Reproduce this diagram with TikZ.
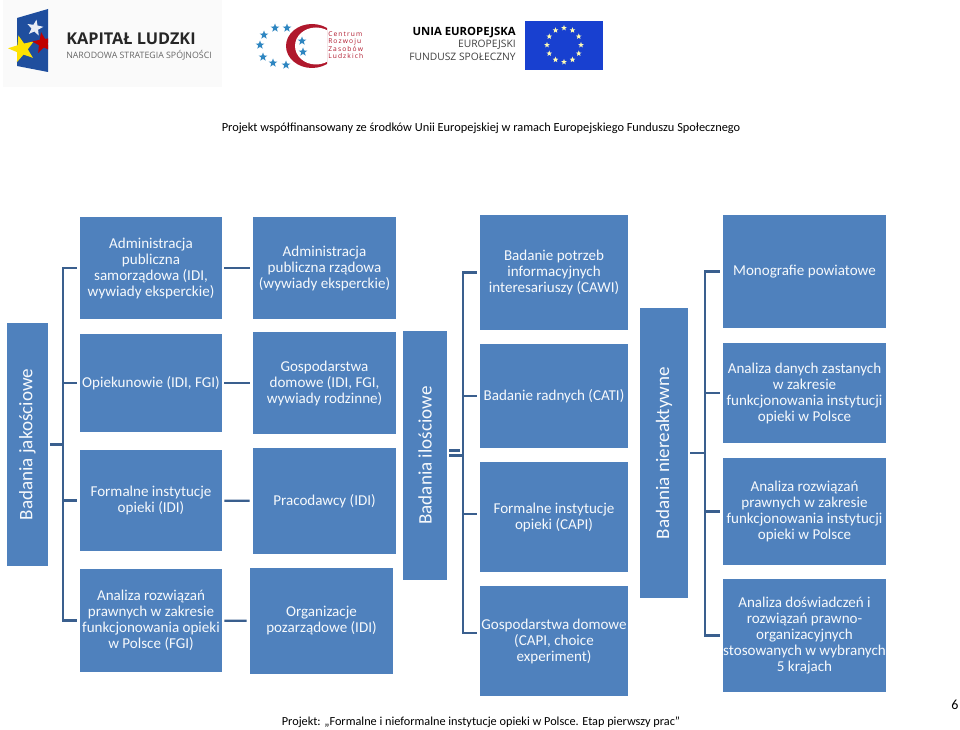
\documentclass[tikz,border=0pt]{standalone}
\usepackage{fontspec}
\setmainfont{Carlito}
\newfontfamily\logofont{Open Sans}
\usetikzlibrary{shapes.geometric}
\definecolor{niebieski}{HTML}{4F81BD}
\definecolor{lacze}{HTML}{3A5F8E}
\definecolor{flaga}{HTML}{1F4E9E}
\definecolor{unia}{HTML}{1840D0}
\definecolor{karmin}{HTML}{B0182C}
\definecolor{gwiazda}{HTML}{2E86C1}
\tikzset{
	pudlo/.style 2 args={draw=none,fill=niebieski,text=white!95!niebieski,align=center,inner sep=0pt,
		minimum width=#1*0.75pt,minimum height=#2*0.75pt,font=\fontsize{11.3}{12}\selectfont},
	pion/.style={rotate=90,font=\fontsize{14.3}{16}\selectfont},
	lacznik/.style={draw=lacze,line width=1.6pt,shorten <=1.5pt,shorten >=2.25pt},
	gw/.style={star,star points=5,star point ratio=2.4,inner sep=0pt,minimum size=#1*0.75pt,draw=none},
	logo/.style={inner sep=0pt,font=\logofont\fontsize{#1}{#1}\selectfont},
}
\begin{document}
\begin{tikzpicture}[x=0.75pt,y=-0.75pt]
	\path[use as bounding box,fill=white] (0,0) rectangle (960,730);
	% logo kapital ludzki
	\fill[black!2] (3,0) rectangle (222,87);
	\fill[flaga] (17,18)--(48,9)--(48,72)--(17,66)--cycle;
	\node[gw=17,fill=white!90!flaga,rotate=-10] (gw1) at (35,28) {};
	\node[gw=28,fill=yellow!85!orange,rotate=15] (gw2) at (22,49) {};
	\begin{scope}
		\clip (17,0) rectangle (48,87);
		\node[gw=22,fill=red!75!black,rotate=10] (gw3) at (43,43) {};
	\end{scope}
	\node[logo=12.2,anchor=west,text=black!85] (kl) at (66,39) {\bfseries KAPITAŁ LUDZKI};
	\node[logo=6.6,anchor=west,text=black!60] (nss) at (66,55) {NARODOWA STRATEGIA SPÓJNOŚCI};
	% logo centrum
	\begin{scope}
		\clip (280,20) rectangle (327,72);
		\fill[karmin] (312,46) ellipse (26 and 22);
		\fill[white] (316,46) ellipse (21 and 18.5);
	\end{scope}
	\foreach \x/\y in {275/28,287/28,264/35,260/45,263/57,273/63,286/65,302/41,303/52}
	\node[gw=9,fill=gwiazda] at (\x,\y) {};
	\node[anchor=west,inner sep=0pt,text=karmin,align=left,font=\logofont\fontsize{5}{5}\selectfont] (crzl) at (328,45)
	{C\,e\,n\,t\,r\,u\,m\\R\,o\,z\,w\,o\,j\,u\\Z\,a\,s\,o\,b\,ó\,w\\L\,u\,d\,z\,k\,i\,c\,h};
	% logo unii
	\node[logo=8.5,anchor=east,text=black] (ue1) at (516,33) {\bfseries UNIA EUROPEJSKA};
	\node[logo=7.7,anchor=east,text=black!75] (ue2) at (516,45) {EUROPEJSKI};
	\node[logo=7.7,anchor=east,text=black!75] (ue3) at (516,57) {FUNDUSZ SPOŁECZNY};
	\fill[unia] (525,21) rectangle (603,70);
	\foreach \k in {0,30,...,330}
	\node[gw=6,fill=yellow!30!white] at ({564+17*cos(\k)},{45+17*sin(\k)}) {};
	% naglowek i stopka
	\node[font=\fontsize{9.27}{12}\selectfont] (naglowek) at (481,128.5) {Projekt współfinansowany ze środków Unii Europejskiej w ramach Europejskiego Funduszu Społecznego};
	\node[font=\fontsize{9.2}{12}\selectfont] (stopka) at (481,722) {Projekt: „Formalne i nieformalne instytucje opieki w Polsce. Etap pierwszy prac”};
	\node[font=\fontsize{10.5}{12}\selectfont] (numer) at (955,705) {6};
	% badania jakosciowe
	\node[pudlo={243}{41},pion] (jak) at (27.5,444.5) {Badania jakościowe};
	\node[pudlo={142}{102}] (sam) at (151,268) {Administracja\\publiczna\\samorządowa (IDI,\\wywiady eksperckie)};
	\node[pudlo={142}{98}] (opk) at (151,383) {Opiekunowie (IDI, FGI)};
	\node[pudlo={142}{101}] (for) at (151,500.5) {Formalne instytucje\\opieki (IDI)};
	\node[pudlo={142}{103}] (ana) at (151,620.5) {Analiza rozwiązań\\prawnych w zakresie\\funkcjonowania opieki\\w Polsce (FGI)};
	\node[pudlo={143}{102}] (rzad) at (324.5,268) {Administracja\\publiczna rządowa\\(wywiady eksperckie)};
	\node[pudlo={143}{102}] (dom) at (324.5,383) {Gospodarstwa\\domowe (IDI, FGI,\\wywiady rodzinne)};
	\node[pudlo={143}{106}] (pra) at (324.5,501) {Pracodawcy (IDI)};
	\node[pudlo={143}{106}] (poz) at (321.5,621) {Organizacje\\pozarządowe (IDI)};
	\foreach \n in {sam,opk,for,ana}
	\draw[lacznik] (jak.south) -- ++(15,0) |- (\n.west);
	\draw[lacznik] (sam) -- (rzad);
	\draw[lacznik] (opk) -- (dom);
	\draw[lacznik] (for) -- (pra);
	\draw[lacznik] (ana) -- (poz);
	% badania ilosciowe
	\node[pudlo={249}{44},pion] (ilo) at (425,455.5) {Badania ilościowe};
	\node[pudlo={148}{115}] (cawi) at (554,272.5) {Badanie potrzeb\\informacyjnych\\interesariuszy (CAWI)};
	\node[pudlo={148}{104}] (cati) at (554,396) {Badanie radnych (CATI)};
	\node[pudlo={148}{110}] (capi) at (554,517) {Formalne instytucje\\opieki (CAPI)};
	\node[pudlo={148}{110}] (chex) at (554,641) {Gospodarstwa domowe\\(CAPI, choice\\experiment)};
	\draw[lacznik] ([yshift=3.75pt]ilo.south) -- ++(16,0);
	\foreach \n/\d in {cawi/0pt,cati/0pt,capi/2.25pt,chex/6pt}
	\draw[lacznik] (ilo.south) -- ++(16,0) |- ([yshift=\d]\n.west);
	% badania niereaktywne
	\node[pudlo={290}{48},pion] (nie) at (664,453) {Badania niereaktywne};
	\node[pudlo={163}{113}] (mono) at (804.5,271.5) {Monografie powiatowe};
	\node[pudlo={163}{100}] (dane) at (804.5,393) {Analiza danych zastanych\\w zakresie\\funkcjonowania instytucji\\opieki w Polsce};
	\node[pudlo={163}{107}] (roz) at (804.5,511.5) {Analiza rozwiązań\\prawnych w zakresie\\funkcjonowania instytucji\\opieki w Polsce};
	\node[pudlo={163}{113}] (dos) at (804.5,635.5) {Analiza doświadczeń i\\rozwiązań prawno-\\organizacyjnych\\stosowanych w wybranych\\5 krajach};
	\foreach \n in {mono,dane,roz,dos}
	\draw[lacznik] (nie.south) -- ++(17,0) |- (\n.west);
\end{tikzpicture}
\end{document}
